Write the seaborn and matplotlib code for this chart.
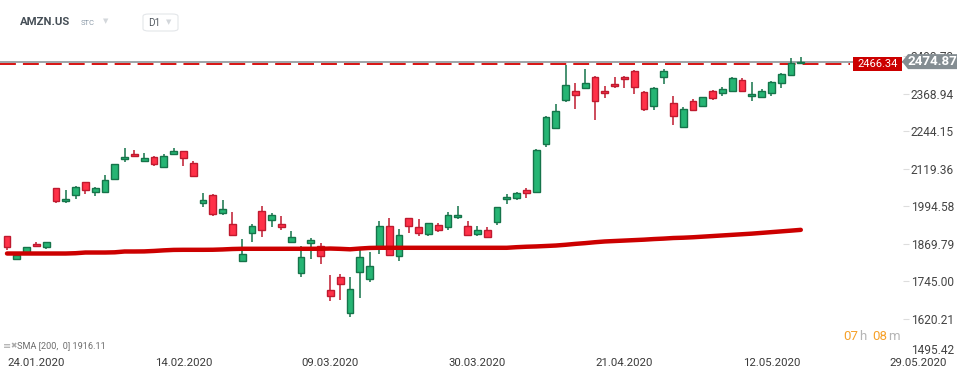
import matplotlib
matplotlib.use("Agg")
import matplotlib.pyplot as plt
from matplotlib.patches import Polygon, FancyBboxPatch
import seaborn as sns
import numpy as np
import pandas as pd

# AMZN.US daily candles, 21.01.2020 - 15.05.2020
opens = [1895.4, 1818.9, 1840.8, 1868.8, 1857.5, 2055.2, 2010.6, 2031.9, 2075.1, 2041.8,
         2041.8, 2085.1, 2151.7, 2168.3, 2145.0, 2158.3, 2125.0, 2168.3, 2178.3, 2138.4,
         2005.2, 2031.9, 1972.0, 1935.4, 1812.2, 1905.4, 1978.6, 1948.7, 1935.4, 1875.4,
         1772.3, 1872.1, 1862.1, 1715.7, 1759.0, 1639.2, 1775.6, 1752.3, 1858.8, 1928.7,
         1828.9, 1955.3, 1925.4, 1902.1, 1932.0, 1925.4, 1958.6, 1928.7, 1902.1, 1915.4,
         1942.0, 2018.5, 2021.9, 2048.5, 2041.8, 2201.6, 2254.8, 2346.7, 2378.0, 2388.0,
         2424.6, 2378.0, 2401.3, 2424.6, 2444.5, 2374.6, 2328.0, 2424.6, 2338.0, 2258.2,
         2344.7, 2328.0, 2378.0, 2371.3, 2378.0, 2414.6, 2361.3, 2358.0, 2371.3, 2404.6,
         2431.2, 2469.0]
highs = [1897.0, 1842.2, 1860.0, 1876.4, 1876.5, 2056.0, 2049.5, 2062.8, 2076.0, 2059.5,
         2099.4, 2136.0, 2189.3, 2182.6, 2172.6, 2162.7, 2169.3, 2189.3, 2179.0, 2146.0,
         2039.5, 2036.2, 2016.2, 1976.3, 1886.4, 1936.3, 1996.3, 1971.9, 1963.0, 1913.1,
         1863.1, 1888.8, 1872.1, 1766.6, 1769.9, 1759.0, 1859.8, 1843.2, 1946.3, 1956.3,
         1918.7, 1956.0, 1952.0, 1940.0, 1938.7, 1975.3, 1996.3, 1945.3, 1928.7, 1925.4,
         1993.0, 2036.2, 2042.8, 2055.2, 2183.0, 2295.8, 2335.7, 2462.2, 2402.3, 2448.9,
         2427.9, 2394.6, 2424.6, 2426.0, 2447.9, 2376.0, 2390.0, 2451.2, 2362.3, 2324.7,
         2351.4, 2359.0, 2379.0, 2389.0, 2423.0, 2421.2, 2407.9, 2384.6, 2411.3, 2436.0,
         2487.8, 2490.0]
lows = [1850.8, 1817.0, 1839.0, 1857.5, 1854.1, 2003.9, 2003.9, 2017.2, 2033.9, 2027.2,
        2040.0, 2083.0, 2140.4, 2160.0, 2144.0, 2127.0, 2124.0, 2163.7, 2127.0, 2091.8,
        1990.6, 1960.6, 1963.9, 1897.0, 1811.0, 1874.1, 1890.8, 1925.4, 1914.0, 1872.1,
        1761.0, 1820.9, 1804.2, 1681.1, 1684.4, 1627.8, 1691.1, 1744.3, 1835.5, 1831.0,
        1814.2, 1904.1, 1894.1, 1894.1, 1907.4, 1915.4, 1952.0, 1897.0, 1894.1, 1891.0,
        1932.0, 2001.9, 2015.2, 2020.5, 2040.0, 2191.6, 2250.2, 2340.0, 2316.7, 2387.0,
        2280.1, 2353.4, 2388.0, 2386.6, 2368.0, 2310.1, 2314.7, 2401.3, 2264.8, 2257.0,
        2311.4, 2323.4, 2348.0, 2361.3, 2376.0, 2376.0, 2344.7, 2357.0, 2361.3, 2388.0,
        2430.0, 2467.0]
closes = [1858.8, 1833.2, 1858.8, 1862.1, 1875.4, 2010.6, 2018.5, 2058.5, 2048.5, 2055.2,
          2081.8, 2135.0, 2158.3, 2161.7, 2155.0, 2135.0, 2162.7, 2178.3, 2155.0, 2095.1,
          2015.2, 1968.6, 1985.3, 1898.7, 1835.5, 1928.7, 1915.4, 1965.3, 1925.4, 1892.1,
          1825.5, 1882.1, 1828.9, 1695.7, 1735.7, 1719.0, 1825.5, 1795.6, 1928.7, 1832.2,
          1898.7, 1928.7, 1905.4, 1938.7, 1915.4, 1965.3, 1965.3, 1898.7, 1915.4, 1892.1,
          1991.9, 2025.2, 2038.5, 2038.5, 2181.6, 2291.4, 2311.4, 2397.9, 2364.7, 2404.6,
          2344.7, 2371.3, 2394.6, 2417.9, 2391.3, 2318.1, 2388.0, 2444.5, 2294.8, 2318.1,
          2314.7, 2358.0, 2354.7, 2384.6, 2421.2, 2378.0, 2368.0, 2378.0, 2407.9, 2434.5,
          2471.2, 2474.87]
sma200 = [1837.5, 1837.5, 1837.5, 1837.5, 1837.5, 1837.5, 1837.5, 1838.5, 1840.8, 1840.8,
          1840.8, 1841.5, 1844.2, 1844.2, 1844.5, 1846.0, 1848.0, 1849.5, 1849.8, 1849.8,
          1849.8, 1850.0, 1851.0, 1852.5, 1853.2, 1853.2, 1853.2, 1853.2, 1853.2, 1853.2,
          1853.2, 1853.2, 1853.2, 1854.0, 1853.0, 1851.5, 1854.0, 1856.0, 1856.5, 1856.5,
          1856.5, 1856.5, 1856.5, 1856.5, 1856.5, 1856.5, 1856.5, 1856.5, 1856.5, 1856.5,
          1856.5, 1856.5, 1858.5, 1860.0, 1861.0, 1862.5, 1864.0, 1866.5, 1869.5, 1872.0,
          1875.0, 1877.5, 1879.0, 1880.5, 1882.0, 1883.5, 1885.5, 1887.0, 1889.0, 1890.0,
          1891.5, 1893.5, 1895.5, 1897.5, 1899.5, 1901.5, 1903.5, 1906.0, 1908.5, 1911.0,
          1913.5, 1916.1]

date_ticks = [3, 18, 33, 48, 63, 78, 93]
date_labels = ["24.01.2020", "14.02.2020", "09.03.2020", "30.03.2020",
               "21.04.2020", "12.05.2020", "29.05.2020"]
price_ticks = [1495.42, 1620.21, 1745.00, 1869.79, 1994.58, 2119.36, 2244.15, 2368.94, 2493.73]
last_price = 2474.87
ask_price = 2466.34
sma_last = 1916.11

sns.set_theme(style="white")
plt.rcParams['font.family'] = ['Roboto', 'DejaVu Sans']

df = pd.DataFrame({"open": opens, "high": highs, "low": lows, "close": closes, "sma": sma200})
df["idx"] = np.arange(len(df))
up = df["close"] >= df["open"]

W, H = 970, 381
fig = plt.figure(figsize=(W / 100, H / 100), dpi=100)
ax = fig.add_axes([0, 1 - 356.5 / H, 1, (356.5 - 40) / H])

green_fill, green_edge = "#26b574", "#15744a"
red_fill, red_edge = "#ff3148", "#bf1a2f"
fills = np.where(up, green_fill, red_fill)
edges = np.where(up, green_edge, red_edge)

# свечи: тени + тела
ax.vlines(df["idx"], df["low"], df["high"], colors=edges, lw=1.1, zorder=2)
body_lo = np.minimum(df["open"], df["close"])
body_h = np.abs(df["close"] - df["open"])
ax.bar(df["idx"], body_h, bottom=body_lo, width=0.68, color=fills,
       edgecolor=edges, linewidth=1.0, zorder=3)

# SMA 200
sns.lineplot(data=df, x="idx", y="sma", color="#cc0000", lw=3.2, ax=ax, zorder=4)

# линии текущей цены
ax.axhline(last_price, 0, 905 / W, color="#8e969a", lw=1.2, zorder=1)
ax.axhline(ask_price, 0, 850 / W, color="#d40000", lw=1.3, dashes=(8.8, 3.9), zorder=1)

ax.set_xlim(-7 / 9.8, (W - 7) / 9.8)
ax.set_ylim(1495.42, 1495.42 + 316.5 * 3.3215)

ax.set_xticks(date_ticks)
ax.set_xticklabels(date_labels)
ax.yaxis.tick_right()
ax.set_yticks(price_ticks)
ax.set_yticklabels([f"{p:.2f}" for p in price_ticks])
ax.tick_params(axis="x", length=0, pad=1, labelsize=8.2, labelcolor="#3a3a3a")
ax.tick_params(axis="y", length=0, pad=-42.5, labelsize=8.6, labelcolor="#444444")
ax.yaxis.get_ticklabels()[0].set_verticalalignment("bottom")
ax.hlines(price_ticks[1:], 903 / W, 909 / W, transform=ax.get_yaxis_transform(),
          colors="#dddddd", lw=0.8)
ax.set_xlabel("")
ax.set_ylabel("")
for s in ax.spines.values():
    s.set_visible(False)
ax.grid(False)


def ypx(price):
    return ax.transData.transform((0, price))[1] / H


# ярлыки цен справа
ya = ypx(ask_price)
fig.patches.append(FancyBboxPatch((853 / W, ya - 7.3 / H), 49 / W, 14.6 / H,
                                  boxstyle="square,pad=0", fc="#cc0000", ec="none",
                                  transform=fig.transFigure, zorder=5))
fig.text(877.5 / W, ya, f"{ask_price:.2f}", color="white", fontsize=8,
         ha="center", va="center", zorder=6)
yl = ypx(last_price)
tag = [(902 / W, yl), (908 / W, yl + 7.5 / H), (957 / W, yl + 7.5 / H),
       (957 / W, yl - 7.5 / H), (908 / W, yl - 7.5 / H)]
fig.patches.append(Polygon(tag, closed=True, fc="#848d92", ec="none",
                           transform=fig.transFigure, zorder=5))
fig.text(932 / W, yl, f"{last_price:.2f}", color="white", fontsize=9.6,
         fontweight="bold", ha="center", va="center", zorder=6)

# заголовок
fig.text(20 / W, 1 - 22 / H, "AMZN.US", fontsize=8.2, fontweight="bold",
         color="#464f57", va="center")
fig.text(81 / W, 1 - 23 / H, "STC", fontsize=5.5, color="#8b9aa8", va="center")
fig.text(103 / W, 1 - 21 / H, "▼", fontsize=5, color="#d3d7db", va="center",
         family=["DejaVu Sans"])
fig.patches.append(FancyBboxPatch((143 / W, 1 - 31 / H), 35 / W, 17 / H,
                                  boxstyle="round,pad=0,rounding_size=0.006",
                                  fc="white", ec="#e3e6e9", lw=0.8,
                                  transform=fig.transFigure))
fig.text(148 / W, 1 - 23 / H, "D1", fontsize=7.2, color="#555c63", va="center")
fig.text(166 / W, 1 - 22 / H, "▼", fontsize=5, color="#d3d7db", va="center",
         family=["DejaVu Sans"])

# легенда индикатора и таймер
fig.text(3 / W, 1 - 346 / H, "≡", fontsize=7, color="#a9a9a9", va="center",
         family=["DejaVu Sans"])
fig.text(10 / W, 1 - 346 / H, "✖", fontsize=5.5, color="#a9a9a9", va="center",
         family=["DejaVu Sans"])
fig.text(17 / W, 1 - 346 / H, f"SMA [200,  0] {sma_last:.2f}", fontsize=6.6,
         color="#6e6e6e", va="center")
fig.text(843 / W, 1 - 336 / H, "07", fontsize=9.5, color="#f6a12a", va="center")
fig.text(859 / W, 1 - 336 / H, "h", fontsize=9.5, color="#b5b5b5", va="center")
fig.text(872 / W, 1 - 336 / H, "08", fontsize=9.5, color="#f6a12a", va="center")
fig.text(888 / W, 1 - 336 / H, "m", fontsize=9.5, color="#b5b5b5", va="center")

fig.savefig("out.png", dpi=100)
